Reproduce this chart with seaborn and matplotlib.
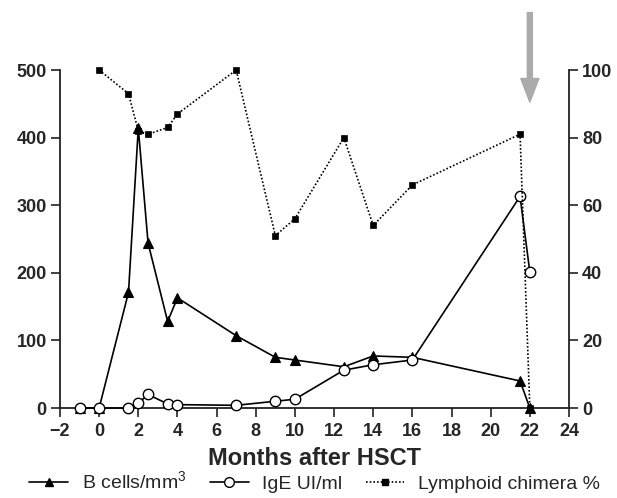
import numpy as np
import pandas as pd
import matplotlib
matplotlib.use("Agg")
import matplotlib.pyplot as plt
import seaborn as sns
from matplotlib.lines import Line2D

# --- Data ---
b_months = [-1, 0, 1.5, 2, 2.5, 3.5, 4, 7, 9, 10, 12.5, 14, 16, 21.5, 22]
b_cells  = [0, 0, 171, 414, 244, 128, 163, 107, 75, 71, 61, 77, 75, 40, 0]

ige_months = [-1, 0, 1.5, 2, 2.5, 3.5, 4, 7, 9, 10, 12.5, 14, 16, 21.5, 22]
ige_vals   = [0, 0, 0, 7, 20, 6, 5, 4, 10, 13, 56, 64, 71, 313, 201]

chim_months = [0, 1.5, 2, 2.5, 3.5, 4, 7, 9, 10, 12.5, 14, 16, 21.5, 22]
chim_pct    = [100, 93, 82, 81, 83, 87, 100, 51, 56, 80, 54, 66, 81, 0]

left_ticks  = [0, 100, 200, 300, 400, 500]
right_ticks = [0, 20, 40, 60, 80, 100]
x_ticks     = list(range(-2, 25, 2))

# --- Style ---
sns.set_style("ticks")
plt.rcParams["font.family"] = ["Liberation Sans", "DejaVu Sans"]
plt.rcParams["mathtext.fontset"] = "custom"
plt.rcParams["mathtext.rm"] = "Liberation Sans"
plt.rcParams["axes.edgecolor"] = "#222222"
plt.rcParams["axes.linewidth"] = 1.3

fig = plt.figure(figsize=(6.17, 4.98), dpi=100)
ax = fig.add_axes([0.0972, 0.1807, 0.825, 0.6787])
ax2 = ax.twinx()

common = dict(color="black", lw=1.2, estimator=None, sort=False,
              clip_on=False, markeredgecolor="black", legend=False)

sns.lineplot(x=b_months, y=b_cells, ax=ax, marker="^", markersize=7,
             markeredgewidth=0.8, zorder=3, **common)
sns.lineplot(x=ige_months, y=ige_vals, ax=ax, marker="o", markersize=7.5,
             markerfacecolor="white", markeredgewidth=1.0, zorder=4, **common)
sns.lineplot(x=chim_months, y=chim_pct, ax=ax2, marker="s", markersize=5,
             markeredgewidth=0.5, linestyle=(0, (1, 1.2)), zorder=3, **common)

# --- Axes ---
ax.set_xlim(-2, 24)
ax.set_ylim(0, 500)
ax2.set_ylim(0, 100)
ax.set_xticks(x_ticks)
ax.set_xticklabels([f"\u2212{abs(t)}" if t < 0 else str(t) for t in x_ticks])
ax.set_yticks(left_ticks)
ax2.set_yticks(right_ticks)

for a in (ax, ax2):
    a.spines["top"].set_visible(False)
    a.tick_params(axis="both", length=6.5, width=1.2, labelsize=13,
                  color="#222222", pad=3)
    a.tick_params(axis="x", pad=4.5)
    for lab in a.get_xticklabels() + a.get_yticklabels():
        lab.set_fontweight("bold")
ax.spines["right"].set_visible(False)
ax2.spines["left"].set_visible(False)
ax2.spines["bottom"].set_visible(False)
ax.set_ylabel("")
ax2.set_ylabel("")
ax.set_xlabel("Months after HSCT", fontsize=17, fontweight="bold",
              labelpad=5)

# grey arrow at 22 months
ax.annotate("", xy=(22, 0.905), xycoords=("data", "axes fraction"),
            xytext=(22, 1.17), textcoords=("data", "axes fraction"),
            arrowprops=dict(width=3.6, headwidth=13, headlength=17,
                            color="#ababab", shrink=0),
            annotation_clip=False)

# --- Legend ---
handles = [
    Line2D([], [], color="black", lw=1.2, marker="^", markersize=6,
           markerfacecolor="black", markeredgecolor="black"),
    Line2D([], [], color="black", lw=1.2, marker="o", markersize=7,
           markerfacecolor="white", markeredgecolor="black"),
    Line2D([], [], color="black", lw=1.2, linestyle=(0, (1, 1.2)),
           marker="s", markersize=4.5, markerfacecolor="black",
           markeredgecolor="black"),
]
labels = ["B cells/mm$^{3}$", "IgE UI/ml", "Lymphoid chimera %"]
fig.legend(handles, labels, loc="lower center", bbox_to_anchor=(0.51, -0.025),
           ncol=3, frameon=False, fontsize=14, handlelength=2.0,
           handletextpad=0.7, columnspacing=1.2)

fig.savefig("out.png", dpi=100)
